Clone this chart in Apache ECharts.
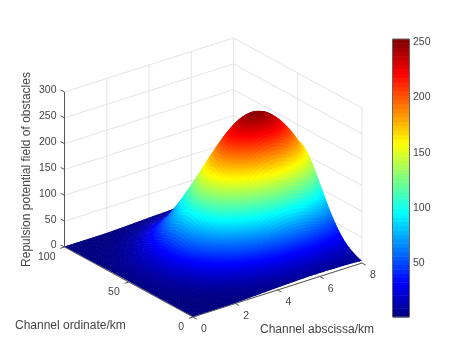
<!DOCTYPE html>
<html>
<head>
<meta charset="utf-8">
<style>html,body{margin:0;padding:0;background:#fff}#main{width:451px;height:354px}</style>
<script src="https://cdn.jsdelivr.net/npm/echarts@6/dist/echarts.min.js"></script>
</head>
<body>
<div id="main"></div>
<script>
// values
var abscissa = [0,0.5,1,1.5,2,2.5,3,3.5,4,4.5,5,5.5,6,6.5,7,7.5,8];
var ordinate = [0,5,10,15,20,25,30,35,40,45,50,55,60,65,70,75,80,85,90,95,100];
var potential = [
  [1,1,1,1,1.2,1.9,2.7,3.7,4.6,5.4,6.1,6.6,6.8,6.6,6.1,5.4,4.6],
  [1,1,1,1.3,2.2,3.7,5.3,7.3,9,10.7,12,12.9,13.3,12.9,12,10.7,9],
  [1,1,1.2,2.3,4.2,6.8,9.8,13.4,16.7,19.7,22.2,23.9,24.5,23.9,22.2,19.7,16.7],
  [1,1.1,2.1,4,7.1,11.7,16.9,23.2,28.8,34.1,38.4,41.2,42.3,41.2,38.4,34.1,28.8],
  [1,1.8,3.4,6.6,11.6,18.8,27.1,37.1,46.1,54.6,61.5,66.1,67.8,66.1,61.5,54.6,46.1],
  [1.1,2.7,5.1,9.7,17.2,28,40.4,55.3,68.8,81.4,91.7,98.6,101,98.6,91.7,81.4,68.8],
  [1.2,3.8,7,13.4,23.8,38.7,55.9,76.6,95.2,112.6,126.9,136.4,139.8,136.4,126.9,112.6,95.2],
  [1.3,4.9,9.1,17.3,30.6,50,72.1,98.8,122.8,145.3,163.7,175.9,180.3,175.9,163.7,145.3,122.8],
  [1.4,5.8,10.9,20.8,36.7,59.9,86.5,118.5,147.3,174.3,196.4,211.1,216.3,211.1,196.4,174.3,147.3],
  [1.5,6.5,12.2,23.1,41,66.8,96.4,132.1,164.1,194.2,218.8,235.2,241,235.2,218.8,194.2,164.1],
  [1.5,6.8,12.6,24,42.5,69.3,100,137,170.3,201.5,227,244,250,244,227,201.5,170.3],
  [1.5,6.5,12.2,23.1,41,66.8,96.4,132.1,164.1,194.2,218.8,235.2,241,235.2,218.8,194.2,164.1],
  [1.4,5.8,10.9,20.8,36.7,59.9,86.5,118.5,147.3,174.3,196.4,211.1,216.3,211.1,196.4,174.3,147.3],
  [1.3,4.9,9.1,17.3,30.6,50,72.1,98.8,122.8,145.3,163.7,175.9,180.3,175.9,163.7,145.3,122.8],
  [1.2,3.8,7,13.4,23.8,38.7,55.9,76.6,95.2,112.6,126.9,136.4,139.8,136.4,126.9,112.6,95.2],
  [1.1,2.7,5.1,9.7,17.2,28,40.4,55.3,68.8,81.4,91.7,98.6,101,98.6,91.7,81.4,68.8],
  [1,1.8,3.4,6.6,11.6,18.8,27.1,37.1,46.1,54.6,61.5,66.1,67.8,66.1,61.5,54.6,46.1],
  [1,1.1,2.1,4,7.1,11.7,16.9,23.2,28.8,34.1,38.4,41.2,42.3,41.2,38.4,34.1,28.8],
  [1,1,1.2,2.3,4.2,6.8,9.8,13.4,16.7,19.7,22.2,23.9,24.5,23.9,22.2,19.7,16.7],
  [1,1,1,1.3,2.2,3.7,5.3,7.3,9,10.7,12,12.9,13.3,12.9,12,10.7,9],
  [1,1,1,1,1.2,1.9,2.7,3.7,4.6,5.4,6.1,6.6,6.8,6.6,6.1,5.4,4.6]
];
var xTicks = [0,2,4,6,8];
var yTicks = [0,50,100];
var zTicks = [0,50,100,150,200,250,300];
var colorTicks = [50,100,150,200,250];
var colorMin = 1;
var colorMax = 253;

var textColor = '#444';
var fontName = '"Liberation Sans", Arial, sans-serif';
var levels = 64;
var subdiv = 6;

var chart = echarts.init(document.getElementById('main'));

// fixed view of the 3d box, matlab style (parallel projection)
function project(x, y, z) {
  return [
    193 + x / 8 * 169 - y / 100 * 128.5,
    317 - x / 8 * 54 - y / 100 * 70 - z / 300 * 155
  ];
}

function clamp(v) { return Math.max(0, Math.min(1, v)); }

function jetAt(t) {
  var r = clamp(1.5 - Math.abs(4 * t - 3));
  var g = clamp(1.5 - Math.abs(4 * t - 2));
  var b = clamp(1.5 - Math.abs(4 * t - 1));
  return 'rgb(' + Math.round(r * 255) + ',' + Math.round(g * 255) + ',' + Math.round(b * 255) + ')';
}

function lineEl(api, a, b, color, width) {
  var p = api.coord(a), q = api.coord(b);
  return {
    type: 'line',
    shape: { x1: p[0], y1: p[1], x2: q[0], y2: q[1] },
    style: { stroke: color, lineWidth: width }
  };
}

function textEl(api, at, dx, dy, str, align) {
  var p = api.coord(at);
  return {
    type: 'text',
    style: {
      x: p[0] + dx, y: p[1] + dy, text: str, fill: textColor,
      font: '10.5px ' + fontName, textAlign: align, textVerticalAlign: 'middle'
    }
  };
}

// back walls and floor
function renderWalls(params, api) {
  var els = [], c = '#e4e4e4';
  zTicks.forEach(function (z) {
    els.push(lineEl(api, project(0, 100, z), project(8, 100, z), c, 1));
    els.push(lineEl(api, project(8, 100, z), project(8, 0, z), c, 1));
  });
  xTicks.forEach(function (x) {
    els.push(lineEl(api, project(x, 100, 0), project(x, 100, 300), c, 1));
    els.push(lineEl(api, project(x, 100, 0), project(x, 0, 0), c, 1));
  });
  yTicks.forEach(function (y) {
    els.push(lineEl(api, project(8, y, 0), project(8, y, 300), c, 1));
    els.push(lineEl(api, project(0, y, 0), project(8, y, 0), c, 1));
  });
  return { type: 'group', children: els };
}

// dark axis lines with ticks and tick labels
function renderAxes(params, api) {
  var els = [], c = '#555';
  els.push(lineEl(api, project(0, 100, 0), project(0, 100, 300), c, 1));
  els.push(lineEl(api, project(0, 100, 0), project(0, 0, 0), c, 1));
  els.push(lineEl(api, project(0, 0, 0), project(8, 0, 0), c, 1));
  zTicks.forEach(function (z) {
    els.push(lineEl(api, project(0, 100, z), project(0, 103, z), c, 1));
    els.push(textEl(api, project(0, 100, z), -8, -1.5, String(z), 'right'));
  });
  yTicks.forEach(function (y) {
    els.push(lineEl(api, project(0, y, 0), project(-0.2, y, 0), c, 1));
    els.push(textEl(api, project(0, y, 0), -9, 10.5, String(y), 'right'));
  });
  xTicks.forEach(function (x) {
    els.push(lineEl(api, project(x, 0, 0), project(x, -3, 0), c, 1));
    els.push(textEl(api, project(x, 0, 0), 11, 12.5, String(x), 'center'));
  });
  return { type: 'group', children: els };
}

// catmull-rom weights, used to shade a cell smoothly between the grid values
function weights(t) {
  return [
    -0.5 * t + t * t - 0.5 * t * t * t,
    1 - 2.5 * t * t + 1.5 * t * t * t,
    0.5 * t + 2 * t * t - 1.5 * t * t * t,
    -0.5 * t * t + 0.5 * t * t * t
  ];
}

function surfaceZ(i, j, u, v) {
  var wu = weights(u), wv = weights(v), sum = 0;
  for (var m = 0; m < 4; m++) {
    var row = potential[Math.max(0, Math.min(ordinate.length - 1, j + m - 1))];
    for (var n = 0; n < 4; n++) {
      sum += wv[m] * wu[n] * row[Math.max(0, Math.min(abscissa.length - 1, i + n - 1))];
    }
  }
  return Math.max(colorMin, sum);
}

// one grid cell, shaded like "shading interp". Each piece runs a little under
// the next one drawn (towards the viewer) so no seams show through.
function renderCell(params, api) {
  var i = api.value(0), j = api.value(1);
  var x0 = abscissa[i], x1 = abscissa[i + 1];
  var y0 = ordinate[j], y1 = ordinate[j + 1];
  var over = 0.5 / subdiv;
  function at(u, v) {
    return [x0 + (x1 - x0) * u, y0 + (y1 - y0) * v, surfaceZ(i, j, u, v)];
  }
  var els = [];
  for (var a = subdiv - 1; a >= 0; a--) {
    for (var b = subdiv - 1; b >= 0; b--) {
      var u0 = a / subdiv, u1 = (a + 1) / subdiv, v0 = b / subdiv, v1 = (b + 1) / subdiv;
      var uLow = i === 0 && a === 0 ? 0 : u0 - over;
      var vLow = j === 0 && b === 0 ? 0 : v0 - over;
      var corners = [at(uLow, vLow), at(u1, vLow), at(u1, v1), at(uLow, v1)];
      var mean = (at(u0, v0)[2] + at(u1, v0)[2] + at(u1, v1)[2] + at(u0, v1)[2]) / 4;
      els.push({
        type: 'polygon',
        shape: { points: corners.map(function (c) { return api.coord(project(c[0], c[1], c[2])); }) },
        style: { fill: jetAt((mean - colorMin) / (colorMax - colorMin)) }
      });
    }
  }
  return { type: 'group', children: els };
}

// painter's order: far corner (x=8, y=100) first
var cells = [];
for (var i = abscissa.length - 2; i >= 0; i--) {
  for (var j = ordinate.length - 2; j >= 0; j--) {
    cells.push([i, j]);
  }
}

var colorCells = [];
for (var k = 0; k < levels; k++) colorCells.push([0, k]);

function renderColorCell(params, api) {
  var k = api.value(1);
  var step = (colorMax - colorMin) / levels;
  var lo = api.coord([0, colorMin + k * step]);
  var hi = api.coord([1, colorMin + (k + 1) * step]);
  return {
    type: 'rect',
    shape: { x: lo[0], y: hi[1], width: hi[0] - lo[0], height: lo[1] - hi[1] + 0.5 },
    style: { fill: jetAt((k + 0.5) / levels) }
  };
}

chart.setOption({
  animation: false,
  backgroundColor: '#fff',
  grid: [
    { left: 0, top: 0, width: 451, height: 354 },
    { left: 393, top: 39, width: 16, height: 278, show: false }
  ],
  xAxis: [
    { type: 'value', min: 0, max: 451, show: false, gridIndex: 0 },
    { type: 'value', min: 0, max: 1, show: false, gridIndex: 1 }
  ],
  yAxis: [
    { type: 'value', min: 0, max: 354, inverse: true, show: false, gridIndex: 0 },
    {
      type: 'value', gridIndex: 1, position: 'right', min: colorMin, max: colorMax,
      splitLine: { show: false },
      axisLine: { show: false },
      axisTick: { show: false },
      axisLabel: { customValues: colorTicks, color: textColor, fontSize: 10.5, fontFamily: fontName, margin: 4 }
    }
  ],
  graphic: [
    { type: 'rect', z: 10, shape: { x: 392.5, y: 39, width: 17, height: 278 }, style: { fill: 'none', stroke: '#666', lineWidth: 1 } },
    {
      type: 'group', z: 10,
      children: colorTicks.map(function (v) {
        var y = 317 - (v - colorMin) / (colorMax - colorMin) * 278;
        return { type: 'line', shape: { x1: 406.5, y1: y, x2: 409, y2: y }, style: { stroke: '#555', lineWidth: 1 } };
      })
    },
    { type: 'text', z: 10, x: 27, y: 169.5, rotation: Math.PI / 2, style: { text: 'Repulsion potential field of obstacles', fill: textColor, font: '12px ' + fontName, textAlign: 'center', textVerticalAlign: 'middle' } },
    { type: 'text', z: 10, x: 15, y: 326, style: { text: 'Channel ordinate/km', fill: textColor, font: '12px ' + fontName, textAlign: 'left', textVerticalAlign: 'middle' } },
    { type: 'text', z: 10, x: 260, y: 330, style: { text: 'Channel abscissa/km', fill: textColor, font: '12px ' + fontName, textAlign: 'left', textVerticalAlign: 'middle' } }
  ],
  series: [
    { type: 'custom', name: 'walls', xAxisIndex: 0, yAxisIndex: 0, data: [[0, 0]], renderItem: renderWalls, silent: true, z: 1 },
    { type: 'custom', name: 'axes', xAxisIndex: 0, yAxisIndex: 0, data: [[0, 0]], renderItem: renderAxes, silent: true, z: 2 },
    { type: 'custom', name: 'surface', xAxisIndex: 0, yAxisIndex: 0, data: cells, renderItem: renderCell, silent: true, z: 3 },
    { type: 'custom', name: 'colorbar', xAxisIndex: 1, yAxisIndex: 1, data: colorCells, renderItem: renderColorCell, silent: true, z: 3 }
  ]
});
</script>
</body>
</html>
